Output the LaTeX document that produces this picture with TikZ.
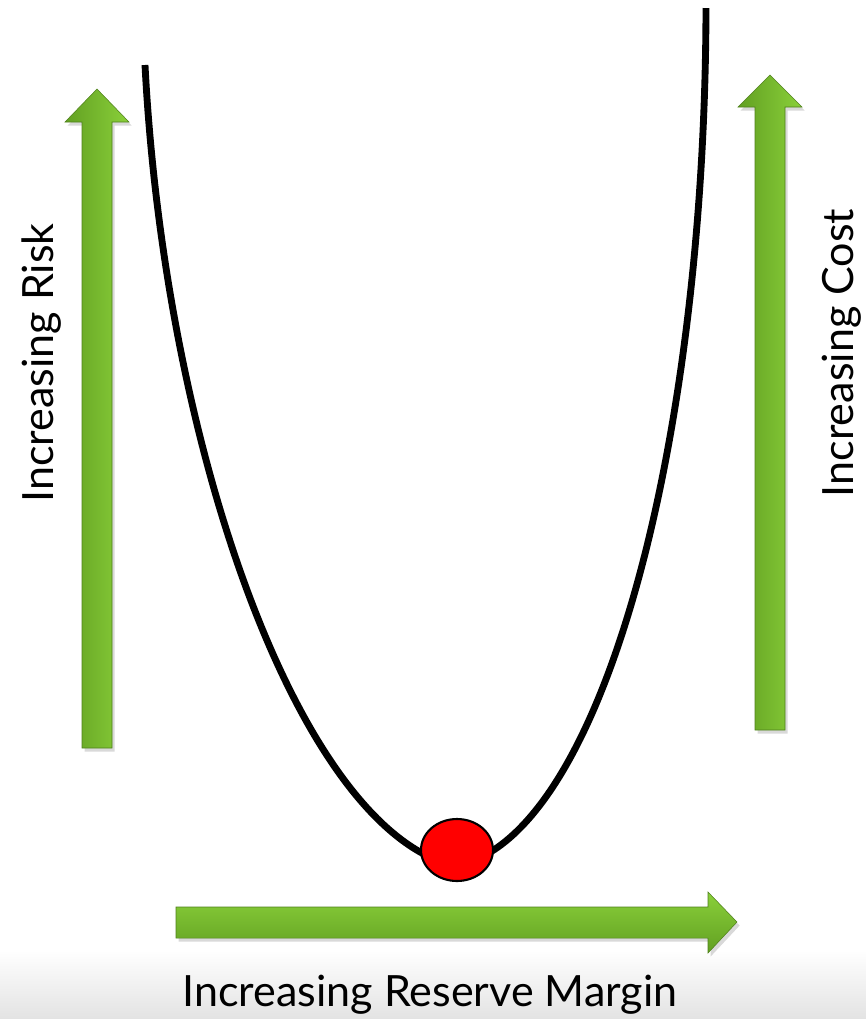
\documentclass[tikz,border=0pt]{standalone}
\usepackage{fontspec}
\setmainfont{Lato}
\usepackage{tikz}
\usetikzlibrary{shapes.geometric,shadows}
\definecolor{arrowDark}{RGB}{98,160,34}
\definecolor{arrowMid}{RGB}{138,208,58}
\definecolor{arrowLight}{RGB}{162,232,76}
\definecolor{ballRed}{RGB}{255,0,0}
\tikzstyle{uparrow}=[left color=arrowDark, middle color=arrowLight, right color=arrowMid, draw=arrowDark!80!black, line width=0.3pt, drop shadow={shadow xshift=1.5pt, shadow yshift=-2pt, opacity=0.3}]
\tikzstyle{sidearrow}=[top color=arrowMid, middle color=arrowLight, bottom color=arrowDark, draw=arrowDark!80!black, line width=0.3pt, drop shadow={shadow xshift=1.5pt, shadow yshift=-2pt, opacity=0.3}]
\tikzstyle{axislabel}=[font=\fontsize{24.5}{28}\selectfont, anchor=base, inner sep=0pt]
\tikzstyle{costcurve}=[line width=3.9pt, black]
\tikzstyle{optimum}=[ellipse, draw=black, line width=1.2pt, fill=ballRed, minimum width=1.44cm, minimum height=1.24cm, inner sep=0pt]

\begin{document}
\begin{tikzpicture}[x=0.02cm, y=-0.02cm]
    \useasboundingbox (0,0) rectangle (866,1019);

    % Bande du bas
    \shade[top color=white, bottom color=black!11] (0,950) rectangle (866,1019);

    % Flèche gauche (risque)
    \shade[uparrow] (82,748) -- (112,748) -- (112,122) -- (129,122) -- (97,89)
        -- (65,122) -- (82,122) -- cycle;

    % Flèche droite (coût)
    \shade[uparrow] (755,730) -- (785,730) -- (785,107) -- (802,107) -- (770,75)
        -- (738,107) -- (755,107) -- cycle;

    % Flèche du bas (marge)
    \shade[sidearrow] (176,907) -- (708,907) -- (708,892) -- (737,922) -- (708,953)
        -- (708,938) -- (176,938) -- cycle;

    % Courbe
    \coordinate (top left) at (145,65);
    \coordinate (bottom) at (455,866);
    \coordinate (top right) at (706,8);
    \draw[costcurve] (top left) .. controls (165,450) and (300,830) .. (bottom)
        .. controls (600,840) and (705,450) .. (top right);

    % Point optimal
    \node[optimum] (opt) at (457,850) {};

    % Textes
    \node[axislabel, rotate=90] (risk) at (53,363) {Increasing Risk};
    \node[axislabel, rotate=90] (cost) at (853,353) {Increasing Cost};
    \node[axislabel] (margin) at (430,1006) {Increasing Reserve Margin};
\end{tikzpicture}
\end{document}
